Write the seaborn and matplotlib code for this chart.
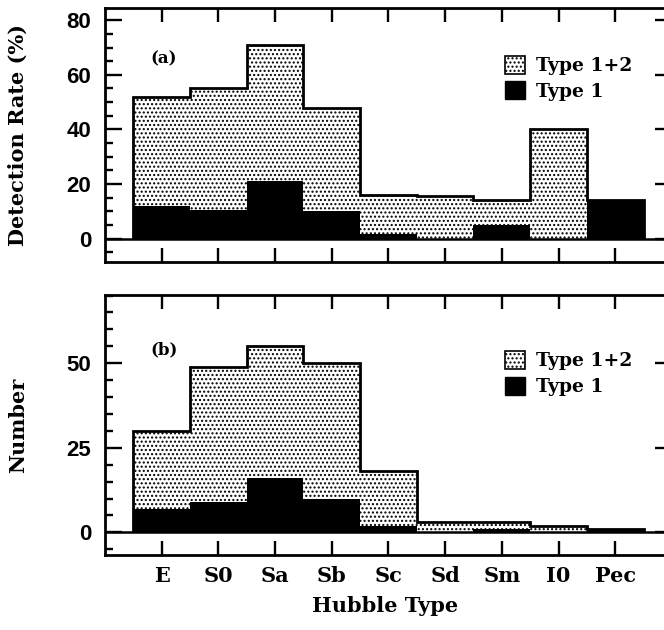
import matplotlib
matplotlib.use("Agg")
import matplotlib.pyplot as plt
import seaborn as sns
import numpy as np
from matplotlib.patches import Patch
from matplotlib.ticker import MultipleLocator

# data
hubble_types = ["E", "S0", "Sa", "Sb", "Sc", "Sd", "Sm", "I0", "Pec"]
rate_type12 = [52, 55, 71, 48, 16, 15.5, 14, 40, 14]
rate_type1 = [12, 10.5, 21, 10, 1.8, 0, 5, 0, 14]
num_type12 = [30, 49, 55, 50, 18, 3, 3, 2, 1]
num_type1 = [7, 9, 16, 10, 2, 0, 1, 0, 1]

sns.set_style("ticks")
plt.rcParams["font.family"] = ["DejaVu Serif"]
plt.rcParams["hatch.linewidth"] = 1.0
for key in ["text.color", "axes.labelcolor", "xtick.color", "ytick.color",
            "axes.edgecolor"]:
    plt.rcParams[key] = "black"

fig = plt.figure(figsize=(6.64, 6.3), dpi=100)
ax_a = fig.add_axes([0.158, 0.584, 0.854, 0.403])
ax_b = fig.add_axes([0.158, 0.119, 0.854, 0.413])

edges = np.arange(len(hubble_types) + 1) - 0.5


def draw_panel(ax, tot, t1, ylim, major, tag, tag_y, leg_y):
    sns.barplot(x=hubble_types, y=tot, ax=ax, width=1, color="white",
                saturation=1, edgecolor="black", linewidth=0)
    for p in ax.patches:
        p.set_hatch("....")
    sns.barplot(x=hubble_types, y=t1, ax=ax, width=1, color="black",
                saturation=1, linewidth=0)
    ax.stairs(tot, edges, baseline=0, color="black", linewidth=2.0, zorder=5)
    ax.axhline(0, color="black", linewidth=1.8, zorder=6)

    ax.set_xlim(-1, 9)
    ax.set_ylim(*ylim)
    ax.yaxis.set_major_locator(MultipleLocator(major))
    ax.yaxis.set_minor_locator(MultipleLocator(5))
    ax.tick_params(axis="y", which="major", direction="in", length=12,
                   width=1.7, left=True, right=True, pad=10)
    ax.tick_params(axis="y", which="minor", direction="in", length=6,
                   width=1.7, left=True, right=True)
    ax.tick_params(axis="x", which="major", direction="in", length=10,
                   width=1.7, top=True, bottom=True, pad=8)
    for s in ax.spines.values():
        s.set_linewidth(2.0)
        s.set_visible(True)
    for lab in ax.get_yticklabels():
        lab.set_fontfamily("Liberation Sans")
        lab.set_fontweight("bold")
        lab.set_fontsize(16)

    ax.text(-0.2, tag_y, tag, fontsize=12, fontweight="bold", va="center")
    handles = [Patch(facecolor="white", edgecolor="black", hatch="....",
                     linewidth=1.2, label="Type 1+2"),
               Patch(facecolor="black", edgecolor="black", label="Type 1")]
    ax.legend(handles=handles, loc="upper left", bbox_to_anchor=(0.675, leg_y),
              frameon=False, handlelength=1.1, handleheight=1.1,
              handletextpad=0.6, labelspacing=0.35,
              prop={"weight": "bold", "size": 13.5})


draw_panel(ax_a, rate_type12, rate_type1, (-8.6, 84.4), 20, "(a)", 66, 0.88)
draw_panel(ax_b, num_type12, num_type1, (-6.7, 70.2), 25, "(b)", 54, 0.85)

ax_a.set_xticklabels([])
ax_b.set_xticks(range(len(hubble_types)))
ax_b.set_xticklabels(hubble_types, fontsize=15, fontweight="bold")

ax_a.set_ylabel("Detection Rate (%)", fontsize=15, fontweight="bold")
ax_b.set_ylabel("Number", fontsize=15, fontweight="bold")
ax_a.yaxis.set_label_coords(-0.136, 0.5)
ax_b.yaxis.set_label_coords(-0.136, 0.5)
ax_b.set_xlabel("Hubble Type", fontsize=15, fontweight="bold")
ax_b.xaxis.set_label_coords(0.494, -0.158)

fig.savefig("out.png", dpi=100)
